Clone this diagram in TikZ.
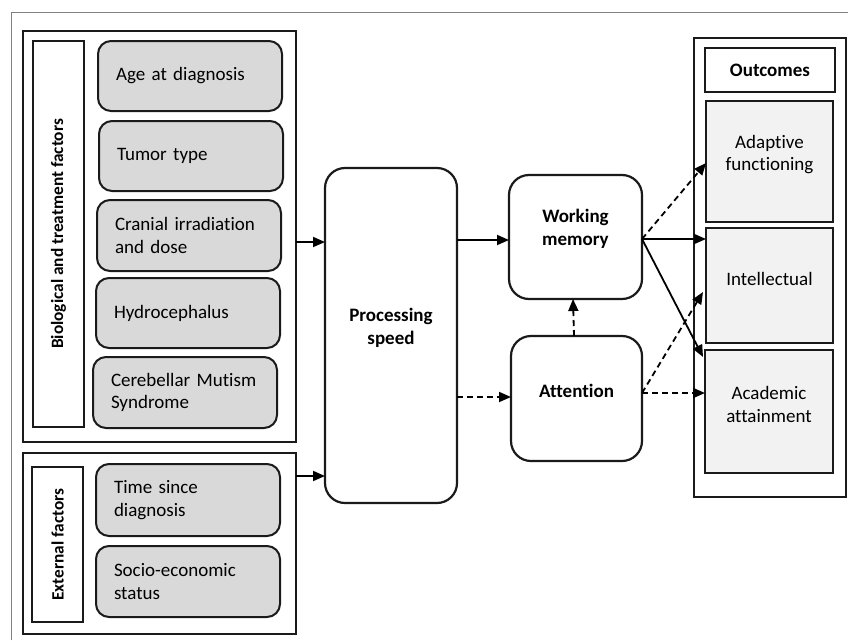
\documentclass[tikz,border=0pt]{standalone}
\usepackage{fontspec}
\setmainfont{Carlito}[Ligatures={NoCommon}]
\usetikzlibrary{arrows.meta,calc}
\definecolor{boxgray}{HTML}{D9D9D9}
\definecolor{outgray}{HTML}{F2F2F2}
\definecolor{lineblk}{HTML}{1A1A1A}
\newcommand\fsmain{\fontsize{19}{22.7}\selectfont}
\newcommand\fsside{\fontsize{17.3}{21}\selectfont\bfseries}
\tikzset{
  inbox/.style={draw=lineblk, line width=2pt, rounded corners=13pt, fill=boxgray,
    minimum width=184pt, minimum height=70pt, text width=148pt, inner xsep=18pt,
    inner ysep=0pt, outer sep=0pt, align=left, font=\fsmain},
  frame/.style={draw=lineblk, line width=2pt, inner sep=0pt, outer sep=0pt},
  procbox/.style={draw=lineblk, line width=2.2pt, rounded corners=20pt, fill=white,
    inner sep=0pt, outer sep=0pt},
  outbox/.style={draw=lineblk, line width=2pt, fill=outgray, inner sep=0pt, outer sep=0pt},
  boldlbl/.style={font=\fsmain\bfseries, align=center, inner sep=0pt},
  plainlbl/.style={font=\fsmain, align=center, inner sep=0pt},
  arr/.style={draw=black, line width=1.8pt, -{Triangle[length=12pt,width=10pt]}},
  darr/.style={arr, dash pattern=on 6pt off 4pt},
}
\begin{document}
\begin{tikzpicture}[x=1pt,y=-1pt]
\useasboundingbox (0,0) rectangle (848,640);
% figure frame lines
\draw[gray, line width=0.9pt] (11,640) -- (11,12) -- (848,12);

% biological and treatment factors
\node[frame, minimum width=273pt, minimum height=411pt] (bio) at (159.5,236.5) {};
\node[frame, minimum width=51pt, minimum height=386pt] (biolbl) at (58.5,234) {};
\node[font=\fsside, rotate=90, inner sep=0pt] (biotxt) at (biolbl.center) {Biological and treatment factors};
\node[inbox] (age) at (190,76) {Age at diagnosis};
\node[inbox] (tumor) at (191,156) {Tumor type};
\node[inbox, minimum height=71pt] (cran) at (189,235.5) {Cranial irradiation\\and dose};
\node[inbox] (hydro) at (188,313) {Hydrocephalus};
\node[inbox, minimum height=71pt] (cms) at (185,392.5) {Cerebellar Mutism\\Syndrome};

% external factors
\node[frame, minimum width=273pt, minimum height=181pt] (ext) at (159.5,543.5) {};
\node[frame, minimum width=51pt, minimum height=155pt] (extlbl) at (57.5,544.5) {};
\node[font=\fsside, rotate=90, inner sep=0pt] (exttxt) at (extlbl.center) {External factors};
\node[inbox, minimum height=72pt] (time) at (188,500) {Time since\\diagnosis};
\node[inbox, minimum height=71pt] (ses) at (188,581.5) {Socio-economic\\status};

% processing
\node[procbox, minimum width=132pt, minimum height=335pt] (ps) at (391,335.5) {};
\node[boldlbl] (pstxt) at ([yshift=8pt]ps.center) {Processing\\speed};
\node[procbox, minimum width=133pt, minimum height=124pt] (wm) at (575.5,237) {};
\node[boldlbl] (wmtxt) at ([yshift=8pt]wm.center) {Working\\memory};
\node[procbox, minimum width=131pt, minimum height=125pt] (att) at (576.5,398.5) {};
\node[boldlbl] (atttxt) at ([yshift=8pt]att.center) {Attention};

% outcomes
\node[frame, minimum width=152pt, minimum height=459pt] (out) at (770,267.5) {};
\node[frame, minimum width=130pt, minimum height=44pt, font=\fsmain\bfseries] (outt) at (770,70) {Outcomes};
\node[outbox, minimum width=127pt, minimum height=121pt] (adap) at (769.5,161.5) {};
\node[plainlbl] (adaptxt) at ([yshift=7pt]adap.center) {Adaptive\\functioning};
\node[outbox, minimum width=127pt, minimum height=115pt] (intel) at (769.5,285.5) {};
\node[plainlbl] (inteltxt) at ([yshift=7pt]intel.center) {Intellectual};
\node[outbox, minimum width=128pt, minimum height=123pt] (acad) at (769,411.5) {};
\node[plainlbl] (acadtxt) at ([yshift=7pt]acad.center) {Academic\\attainment};

% connectors
\draw[arr] ([yshift=-5.5pt]bio.east) -- ([yshift=-5.5pt]bio.east -| ps.west);
\draw[arr] ([yshift=-23pt]ext.north east) -- ([yshift=-23pt]ext.north east -| ps.west);
\draw[arr] ([yshift=-3pt]wm.west -| ps.east) -- ([yshift=-3pt]wm.west);
\draw[darr] ([yshift=1.5pt]att.west -| ps.east) -- ([yshift=1.5pt]att.west);
\draw[darr] ([xshift=-2.5pt]att.north) -- ([xshift=-2.5pt]wm.south);

\coordinate (wmo) at ([yshift=-2pt]wm.east);
\coordinate (atto) at ([yshift=5.5pt]att.east);
\draw[darr] (wmo) -- ([yshift=-1.5pt]adap.west);
\draw[arr] (wmo) -- (wmo -| intel.west);
\draw[arr] (wmo) -- ([xshift=-2pt,yshift=-7pt]acad.north west);
\draw[darr] (atto) -- ([xshift=-3pt,yshift=-6.5pt]intel.west);
\draw[darr] (atto) -- (atto -| acad.west);
\end{tikzpicture}
\end{document}
